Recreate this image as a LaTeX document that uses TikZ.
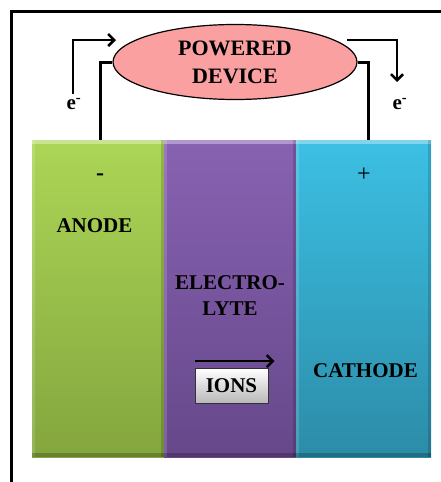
\documentclass[tikz,border=0pt]{standalone}
\usepackage{fontspec}
\setmainfont{Liberation Serif}
\usepackage{xcolor}
\definecolor{devPink}{RGB}{250, 160, 160}
\definecolor{anodeTop}{RGB}{172, 214, 86}
\definecolor{anodeBot}{RGB}{132, 166, 62}
\definecolor{elecTop}{RGB}{136, 98, 178}
\definecolor{elecBot}{RGB}{102, 72, 138}
\definecolor{cathTop}{RGB}{60, 192, 228}
\definecolor{cathBot}{RGB}{44, 140, 168}
\usepackage{tikz}
\usetikzlibrary{
    shapes.geometric,
    arrows.meta,
    positioning
}

\begin{document}
\begin{tikzpicture}[
    x=1pt, y=-1pt,
    cellBox/.style={
        rectangle, inner sep=0pt,
        minimum width=132pt, minimum height=317pt,
        path picture={
            \fill[white, opacity=0.35] (path picture bounding box.north west) rectangle ([yshift=-4pt]path picture bounding box.north east);
            \fill[white, opacity=0.15] (path picture bounding box.north west) rectangle ([xshift=3pt]path picture bounding box.south west);
            \fill[black, opacity=0.15] (path picture bounding box.north east) rectangle ([xshift=-3pt]path picture bounding box.south east);
            \fill[black, opacity=0.22] (path picture bounding box.south west) rectangle ([yshift=4pt]path picture bounding box.south east);
        }
    },
    deviceNode/.style={
        ellipse, draw=black, line width=1.2pt,
        fill=devPink, text=black,
        font=\bfseries\fontsize{22}{28}\selectfont, align=center,
        inner sep=0pt, minimum width=244pt, minimum height=75pt
    },
    labelText/.style={
        font=\bfseries\fontsize{21}{26}\selectfont, align=center, inner sep=1pt
    },
    signText/.style={
        font=\fontsize{24}{24}\selectfont, inner sep=1pt
    },
    ionsBox/.style={
        rectangle, draw=black!80, line width=0.8pt,
        top color=white, bottom color=black!28,
        font=\bfseries\fontsize{21}{26}\selectfont,
        inner sep=0pt, minimum width=73pt, minimum height=35pt
    },
    frameLine/.style={line width=3pt, draw=black},
    wireLine/.style={line width=3pt, draw=black},
    flowArrow/.style={
        -{Straight Barb[length=6pt, width=12pt]}, line width=2.5pt, draw=black
    }
]
    \useasboundingbox (0,0) rectangle (441,482);

    % Frame
    \draw[frameLine] (11,482) -- (11,11) -- (441,11);

    % Cells
    \node[cellBox, top color=anodeTop, bottom color=anodeBot] (anode) at (98,298.5) {};
    \node[cellBox, top color=elecTop, bottom color=elecBot] (electrolyte) at (230,298.5) {};
    \node[cellBox, top color=cathTop, bottom color=cathBot, minimum width=135pt] (cathode) at (363.5,298.5) {};

    % Device
    \node[deviceNode] (device) at (235,62) {POWERED\\DEVICE};

    % Labels
    \node[signText, font=\bfseries\fontsize{24}{24}\selectfont] (minus) at (100,177) {-};
    \node[signText] (plus) at (364,175) {+};
    \node[labelText] (anodeLabel) at (94.5,226) {ANODE};
    \node[labelText] (elecLabel) at (230,296) {ELECTRO-\\LYTE};
    \node[labelText] (cathLabel) at (365.5,371) {CATHODE};
    \node[ionsBox] (ions) at (231.5,386) {IONS};
    \node[labelText] (eLeft) at (74,104) {e\textsuperscript{-}};
    \node[labelText] (eRight) at (400,104) {e\textsuperscript{-}};

    \coordinate (inTip) at (116,40);
    \coordinate (outStart) at (347,40);
    \coordinate (outTip) at (397,82);

    % Wires
    \draw[wireLine] ([xshift=2pt]anode.north) |- (device.west);
    \draw[wireLine] ([xshift=4.5pt]cathode.north) |- (device.east);

    % Electron flow
    \draw[flowArrow] ([xshift=-1pt, yshift=3pt]eLeft.north) |- (inTip);
    \draw[flowArrow] (outStart) -| (outTip);
    \draw[flowArrow] ([yshift=7pt]ions.north west) -- ++(80,0);

\end{tikzpicture}
\end{document}
